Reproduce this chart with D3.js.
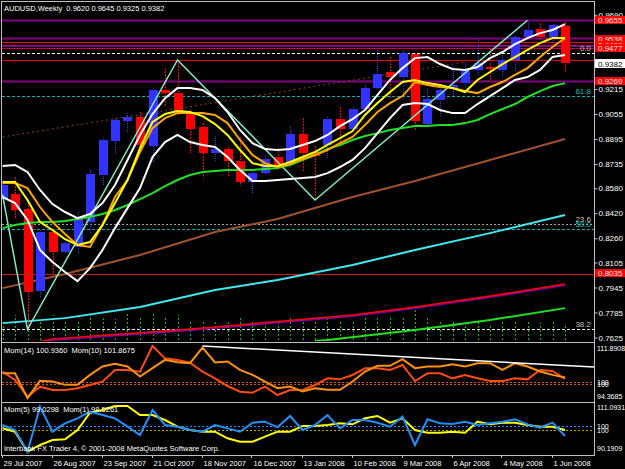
<!DOCTYPE html>
<html>
<head>
<meta charset="utf-8">
<script src="https://cdn.jsdelivr.net/npm/d3@7"></script>
<style>
body { margin: 0; background: #000; }
text { font-family: "Liberation Sans", Arial, sans-serif; }
</style>
</head>
<body>
<div id="chart"></div>
<script>
"use strict";
// ---- data ----
let tickBars = [0, 4, 8, 12, 16, 20, 24, 28, 32, 36, 40, 44];
let tickLabels = ['29 Jul 2007','26 Aug 2007','23 Sep 2007','21 Oct 2007','18 Nov 2007','16 Dec 2007',
                  '13 Jan 2008','10 Feb 2008','9 Mar 2008','6 Apr 2008','4 May 2008','1 Jun 2008'];
let priceTicks = [0.9690, 0.9530, 0.9370, 0.9215, 0.9055, 0.8895, 0.8735, 0.8580, 0.8420, 0.8260, 0.8105, 0.7945, 0.7785, 0.7625];

let open  = [0.8511,0.8543,0.8447,0.7922,0.8300,0.8172,0.8204,0.8364,0.8665,0.8882,0.9010,0.9036,0.8850,0.9209,0.9189,0.9061,
             0.8972,0.8805,0.8831,0.8754,0.8620,0.8677,0.8780,0.8741,0.8927,0.8812,0.8857,0.9023,0.8959,0.9087,0.9221,0.9324,
             0.9292,0.9439,0.8991,0.9145,0.9215,0.9253,0.9337,0.9356,0.9337,0.9401,0.9548,0.9599,0.9548,0.9620];
let high  = [0.8633,0.8652,0.8492,0.8313,0.8319,0.8236,0.8428,0.8697,0.8901,0.9023,0.9061,0.9068,0.9221,0.9349,0.9401,0.9081,
             0.8997,0.8914,0.8844,0.8908,0.8684,0.8793,0.8837,0.8972,0.9029,0.8850,0.9036,0.9100,0.9100,0.9241,0.9465,0.9420,
             0.9465,0.9445,0.9221,0.9241,0.9356,0.9388,0.9541,0.9477,0.9433,0.9554,0.9655,0.9637,0.9631,0.9645];
let low   = [0.8498,0.8389,0.7677,0.7884,0.8037,0.8165,0.8165,0.8287,0.8601,0.8793,0.8940,0.8812,0.8741,0.9100,0.9049,0.8805,
             0.8645,0.8748,0.8652,0.8594,0.8549,0.8671,0.8697,0.8709,0.8684,0.8505,0.8773,0.8869,0.8953,0.9081,0.9209,0.9157,
             0.9145,0.8953,0.8985,0.9036,0.9164,0.9228,0.9305,0.9260,0.9292,0.9324,0.9529,0.9522,0.9503,0.9325];
let close = [0.8601,0.8441,0.7916,0.8300,0.8172,0.8229,0.8389,0.8671,0.8889,0.9017,0.9036,0.8857,0.9209,0.9189,0.9068,0.8959,
             0.8805,0.8831,0.8754,0.8620,0.8677,0.8767,0.8709,0.8927,0.8805,0.8786,0.9023,0.8959,0.9087,0.9221,0.9311,0.9292,
             0.9445,0.9010,0.9151,0.9209,0.9241,0.9330,0.9381,0.9343,0.9401,0.9548,0.9593,0.9548,0.9625,0.9382];
let volume = [18,25,32,20,25,18,20,27,22,21,27,22,27,23,25,20,20,18,20,22,18,17,18,22,20,24,22,20,20,22,22,23,
              24,35,22,20,18,18,20,16,18,19,19,17,20,15];

let bandUpper = [0.8722,0.8729,0.8684,0.8569,0.8479,0.8428,0.8389,0.8415,0.8485,0.8601,0.8761,0.8921,0.9055,0.9157,0.9221,0.9221,
                 0.9209,0.9157,0.9068,0.8953,0.8869,0.8831,0.8825,0.8831,0.8857,0.8882,0.8921,0.8978,0.9023,0.9081,0.9177,0.9273,
                 0.9349,0.9413,0.9420,0.9375,0.9343,0.9337,0.9356,0.9413,0.9452,0.9503,0.9541,0.9573,0.9593,0.9631];
let bandLower = [0.8524,0.8485,0.8377,0.8185,0.8108,0.8044,0.7986,0.8069,0.8185,0.8325,0.8453,0.8581,0.8780,0.8876,0.8921,0.8876,
                 0.8857,0.8844,0.8780,0.8697,0.8626,0.8626,0.8633,0.8639,0.8645,0.8652,0.8677,0.8716,0.8761,0.8837,0.8933,0.9029,
                 0.9113,0.9125,0.9119,0.9081,0.9061,0.9061,0.9119,0.9170,0.9221,0.9273,0.9292,0.9337,0.9420,0.9433];
let maYellow  = [0.8620,0.8620,0.8505,0.8364,0.8313,0.8255,0.8217,0.8236,0.8345,0.8485,0.8633,0.8837,0.9004,0.9055,0.9074,0.9068,
                 0.9042,0.8991,0.8921,0.8825,0.8741,0.8722,0.8722,0.8748,0.8780,0.8812,0.8857,0.8901,0.8946,0.9049,0.9125,0.9196,
                 0.9260,0.9273,0.9253,0.9241,0.9221,0.9196,0.9273,0.9324,0.9375,0.9420,0.9465,0.9509,0.9541,0.9541];
let maOrange  = [0.8613,0.8613,0.8581,0.8460,0.8364,0.8287,0.8217,0.8204,0.8345,0.8524,0.8633,0.8812,0.8965,0.9029,0.9061,0.9061,
                 0.9061,0.9049,0.8997,0.8889,0.8793,0.8741,0.8716,0.8735,0.8767,0.8793,0.8825,0.8869,0.8908,0.8985,0.9068,0.9125,
                 0.9170,0.9260,0.9241,0.9228,0.9221,0.9202,0.9189,0.9228,0.9260,0.9305,0.9349,0.9420,0.9484,0.9541];
let maGreen   = [0.8325,0.8345,0.8357,0.8364,0.8364,0.8370,0.8383,0.8396,0.8415,0.8441,0.8473,0.8511,0.8549,0.8594,0.8633,0.8665,
                 0.8684,0.8690,0.8697,0.8697,0.8697,0.8703,0.8709,0.8729,0.8761,0.8793,0.8831,0.8857,0.8889,0.8914,0.8933,0.8953,
                 0.8965,0.8978,0.8978,0.8985,0.8985,0.8997,0.9017,0.9055,0.9087,0.9119,0.9164,0.9202,0.9234,0.9253];
// slow averages: [bar, price] readings
let maBrown  = [[0,0.7941],[5,0.8031],[11,0.8153],[17,0.8300],[22,0.8383],[28,0.8524],[33,0.8626],[39,0.8761],[45,0.8895]];
let maCyan   = [[0,0.7717],[5,0.7749],[11,0.7820],[17,0.7929],[22,0.7993],[28,0.8089],[33,0.8185],[39,0.8293],[45,0.8409]];
let maRed    = [[3,0.7600],[4,0.7615],[14,0.7673],[17,0.7692],[28,0.7769],[33,0.7820],[39,0.7890],[45,0.7967]];
let maLime   = [[25,0.7602],[26,0.7609],[33,0.7673],[39,0.7737],[45,0.7813]];
let zigzag   = [[0,0.8540],[2,0.7677],[14,0.9401],[25,0.8505],[42,0.9655]];
let trendBrown = [[0,0.8908],[37,0.9388]];

// horizontal objects
let hLevels = [0.9657,0.9543,0.9513,0.9500,0.9490,0.9477,0.9443,0.9399,0.9269,0.9168,0.8353,0.8321,0.8030,0.7677];
let fibNames  = ['0.0','61.8','23.6','50.0','38.2'];
let fibPrices = [0.9443,0.9168,0.8353,0.8321,0.7677];
let boxPrices = [0.9655,0.9538,0.9496,0.9477,0.9269,0.8035];
let lastPrice = 0.9382;

// momentum sub windows
let mom14 = [103.23,100.62,95.41,98.54,97.50,97.50,98.02,99.06,100.10,103.75,103.75,103.23,111.26,107.40,106.88,106.05,
             103.23,101.15,98.75,96.97,96.66,98.54,95.93,97.50,97.50,99.06,101.15,100.83,102.19,104.27,104.27,103.75,
             105.32,100.31,102.71,102.71,101.15,102.19,101.15,100.31,100.31,101.15,100.83,103.75,103.44,100.94];
let mom10 = [103.23,103.23,95.41,100.83,100.62,99.58,99.58,102.71,105.32,106.15,105.32,102.19,104.80,107.40,106.67,106.36,
             111.26,106.57,106.88,104.27,102.71,100.62,98.54,99.06,97.50,98.54,98.02,98.02,100.62,103.75,105.53,105.53,
             107.61,104.80,105.32,105.32,106.05,105.32,106.36,106.36,104.27,106.36,105.32,103.75,102.70,101.87];
let mom10Trend = [[16,111.70],[47.5,105.10]];
let mom5 = [100.71,99.29,90.76,93.61,95.74,96.02,100.00,107.40,108.53,110.24,110.24,106.40,106.40,104.27,101.42,100.00,
            99.29,99.29,96.45,95.03,95.03,97.16,99.29,99.29,101.71,101.71,102.14,102.85,102.42,104.98,105.98,103.13,
            104.98,100.00,98.87,98.87,99.29,98.87,103.56,102.42,103.13,103.13,102.14,101.42,101.42,100.00];
let mom1 = [100.42,98.28,89.04,108.24,97.57,101.13,103.26,106.10,104.68,103.26,99.70,96.15,106.81,100.42,99.70,98.28,
            97.57,100.42,98.99,97.57,101.41,101.84,99.42,104.26,98.28,100.42,104.68,98.99,102.55,102.55,101.41,99.70,
            103.97,91.89,102.84,101.13,100.84,101.84,100.42,101.13,101.84,102.84,100.70,99.28,101.41,95.72];

// ---- layout ----
let width = 625, height = 469;
let plotLeft = 2, plotRight = 594;
let mainTop = 2, mainBottom = 341, p1Top = 343, p1Bottom = 401, p2Top = 403, p2Bottom = 455;

let svg = d3.select("#chart").append("svg")
            .attr("width", width).attr("height", height)
            .style("background", "#000");

let xScale = d3.scaleLinear().domain([0, 45]).range([2.5, 565]);
let yScale = d3.scaleLinear().domain([0.7609, 0.9772]).range([340, 2]);
let volScale = d3.scaleLinear().domain([0, 40]).range([340, 300]);
let m14Scale = d3.scaleLinear().domain([94.3685, 111.8908]).range([400, 344]);
let m10Scale = d3.scaleLinear().domain([94.84, 112.36]).range([400, 344]);
let m5Scale = d3.scaleLinear().domain([90.1909, 111.0931]).range([453, 404]);
let m1Scale = d3.scaleLinear().domain([88.48, 109.38]).range([453, 404]);

let defs = svg.append("defs");
function clip(id, y0, y1) {
    defs.append("clipPath").attr("id", id).append("rect")
        .attr("x", plotLeft).attr("y", y0).attr("width", plotRight - plotLeft).attr("height", y1 - y0);
}
clip("mainClip", mainTop, mainBottom);
clip("p1Clip", p1Top, p1Bottom);
clip("p2Clip", p2Top, p2Bottom);

let main = svg.append("g").attr("clip-path", "url(#mainClip)");
let pane1 = svg.append("g").attr("clip-path", "url(#p1Clip)");
let pane2 = svg.append("g").attr("clip-path", "url(#p2Clip)");

// Horizontal lines
let hStyles = [
    ["#800080", 2, null], ["#800080", 2, null], ["#ff0000", 1, null], ["#a00080", 1, null], ["#800080", 1, null],
    ["#c00040", 1, null], ["#ffffff", 1, "3,2"], ["#ff0000", 1, null], ["#800080", 2, null], ["#00b4b4", 1, "3,2"],
    ["#a0a0a0", 1, "2,2"], ["#00b4b4", 1, "3,2"], ["#d02000", 1, null], ["#ffffff", 1, "3,2"]
];
main.selectAll("line.hl").data(hLevels).enter().append("line")
    .attr("class", "hl")
    .attr("x1", plotLeft).attr("x2", plotRight)
    .attr("y1", function(d) { return Math.round(yScale(d)) + 0.5; })
    .attr("y2", function(d) { return Math.round(yScale(d)) + 0.5; })
    .attr("stroke", function(d, i) { return hStyles[i][0]; })
    .attr("stroke-width", function(d, i) { return hStyles[i][1]; })
    .attr("stroke-dasharray", function(d, i) { return hStyles[i][2]; });

// Fibo level captions
let fibColors = ["#c0c0c0", "#00c8c8", "#c0c0c0", "#00c8c8", "#c0c0c0"];
main.selectAll("text.fib").data(fibPrices).enter().append("text")
    .attr("class", "fib")
    .attr("x", 591).attr("y", function(d) { return yScale(d) - 2; })
    .attr("text-anchor", "end").attr("font-size", "8px")
    .attr("fill", function(d, i) { return fibColors[i]; })
    .text(function(d, i) { return fibNames[i]; });

// Volumes
main.selectAll("line.vol").data(volume).enter().append("line")
    .attr("x1", function(d, i) { return Math.round(xScale(i)) + 0.5; })
    .attr("x2", function(d, i) { return Math.round(xScale(i)) + 0.5; })
    .attr("y1", volScale(0)).attr("y2", function(d) { return volScale(d); })
    .attr("stroke", "#00c000").attr("stroke-dasharray", "2,2");

let knotLine = d3.line().x(function(d) { return xScale(d[0]); }).y(function(d) { return yScale(d[1]); });
let seriesLine = d3.line().x(function(d, i) { return xScale(i); }).y(function(d) { return yScale(d); });

function drawKnots(g, data, colour, w, dash) {
    g.append("path").datum(data).attr("d", knotLine)
        .attr("fill", "none").attr("stroke", colour).attr("stroke-width", w).attr("stroke-dasharray", dash || null);
}
function drawSeries(g, data, colour, w) {
    g.append("path").datum(data).attr("d", seriesLine)
        .attr("fill", "none").attr("stroke", colour).attr("stroke-width", w);
}

// Slow moving averages
drawKnots(main, maLime, "#20e020", 2);
drawKnots(main, maRed.map(function(d) { return [d[0], d[1] - 0.0008]; }), "#8000a0", 1.5);
drawKnots(main, maRed, "#ff0000", 1.5);
drawKnots(main, maCyan, "#40e8f0", 2);
drawKnots(main, maBrown, "#a0522d", 2);
drawKnots(main, trendBrown, "#8b4513", 1, "2,3");

// Candles
let candles = d3.range(open.length).map(function(i) {
    return {i: i, o: open[i], h: high[i], l: low[i], c: close[i]};
});
main.selectAll("line.wick").data(candles).enter().append("line")
    .attr("x1", function(d) { return Math.round(xScale(d.i)) + 0.5; })
    .attr("x2", function(d) { return Math.round(xScale(d.i)) + 0.5; })
    .attr("y1", function(d) { return yScale(d.h); })
    .attr("y2", function(d) { return yScale(d.l); })
    .attr("stroke", function(d) { return d.c >= d.o ? "#3a3aff" : "#ff0000"; })
    .attr("stroke-dasharray", function(d) { return d.c >= d.o ? "1,1" : "2,1"; });
main.selectAll("rect.body").data(candles).enter().append("rect")
    .attr("x", function(d) { return Math.round(xScale(d.i)) - 4; })
    .attr("width", 9)
    .attr("y", function(d) { return yScale(Math.max(d.o, d.c)); })
    .attr("height", function(d) { return Math.max(1.5, Math.abs(yScale(d.o) - yScale(d.c))); })
    .attr("fill", function(d) { return d.c >= d.o ? "#3333ff" : "#ff0000"; });

// ZigZag and fast averages
drawKnots(main, zigzag, "#80e8c8", 1.5);
drawSeries(main, maGreen, "#22e022", 2);
drawSeries(main, bandLower, "#ffffff", 2);
drawSeries(main, bandUpper, "#ffffff", 2);
drawSeries(main, maOrange, "#ffa500", 2);
drawSeries(main, maYellow, "#ffff00", 2);

// ---- Momentum pane 1 ----
function levelLine(g, yv, colour) {
    g.append("line").attr("x1", plotLeft).attr("x2", plotRight)
        .attr("y1", Math.round(yv) + 0.5).attr("y2", Math.round(yv) + 0.5)
        .attr("stroke", colour).attr("stroke-dasharray", "2,2");
}
function momLine(g, data, scale, colour) {
    g.append("path").datum(data)
        .attr("d", d3.line().x(function(d, i) { return xScale(i); }).y(function(d) { return scale(d); }))
        .attr("fill", "none").attr("stroke", colour).attr("stroke-width", 2);
}
levelLine(pane1, m14Scale(100), "#ff4500");
levelLine(pane1, m10Scale(100), "#c86400");
momLine(pane1, mom14, m14Scale, "#ff4a10");
momLine(pane1, mom10, m10Scale, "#ff9010");
pane1.append("path").datum(mom10Trend)
    .attr("d", d3.line().x(function(d) { return xScale(d[0]); }).y(function(d) { return m10Scale(d[1]); }))
    .attr("stroke", "#ffffff").attr("stroke-width", 1.5).attr("fill", "none");

// ---- Momentum pane 2 ----
levelLine(pane2, m1Scale(100), "#1e90ff");
levelLine(pane2, m5Scale(100), "#b0b000");
momLine(pane2, mom5, m5Scale, "#ffff00");
momLine(pane2, mom1, m1Scale, "#2090ff");

// ---- frame ----
let frame = svg.append("g").attr("stroke", "#c0c0c0").attr("fill", "none");
frame.append("rect").attr("x", 1.5).attr("y", 1.5).attr("width", plotRight - 1).attr("height", p2Bottom - 1);
[mainBottom + 1, p1Bottom + 1].forEach(function(yy) {
    frame.append("line").attr("x1", 1.5).attr("x2", plotRight + 0.5).attr("y1", yy + 0.5).attr("y2", yy + 0.5);
});

// Price axis
let yAxis = d3.axisRight(yScale).tickValues(priceTicks).tickFormat(d3.format(".4f")).tickSize(3).tickPadding(1);
let axisG = svg.append("g").attr("transform", "translate(" + (plotRight + 0.5) + ",0)").call(yAxis);
axisG.select(".domain").remove();
axisG.selectAll("line").attr("stroke", "#c0c0c0");
axisG.selectAll("text").attr("fill", "#ffffff").attr("font-size", "8px").attr("font-family", "Liberation Sans, Arial");

// Price boxes on the axis
svg.selectAll("g.box").data(boxPrices).enter().append("g").each(function(d) {
    let g = d3.select(this);
    g.append("rect").attr("x", plotRight + 1).attr("y", Math.round(yScale(d)) - 4)
        .attr("width", 30).attr("height", 8).attr("fill", "#ff0000");
    g.append("text").attr("x", plotRight + 4).attr("y", Math.round(yScale(d)) + 3)
        .attr("font-size", "8px").attr("fill", "#e8e8e8").text(d3.format(".4f")(d));
});
svg.append("rect").attr("x", plotRight + 1).attr("y", Math.round(yScale(lastPrice)) - 4)
    .attr("width", 30).attr("height", 9).attr("fill", "#ffffff");
svg.append("text").attr("x", plotRight + 4).attr("y", Math.round(yScale(lastPrice)) + 3.5)
    .attr("font-size", "8px").attr("fill", "#000000").text(d3.format(".4f")(lastPrice));

// Sub window scale labels
function paneLabel(txt, yy) {
    svg.append("text").attr("x", plotRight + 3).attr("y", yy).attr("font-size", "7px")
        .attr("fill", "#ffffff").text(txt);
}
paneLabel("111.8908", m14Scale(111.8908) + 7);
paneLabel("100", m14Scale(100) + 3);
paneLabel("100", m10Scale(100) + 3);
paneLabel("94.3685", m14Scale(94.3685) - 1);
paneLabel("111.0931", m5Scale(111.0931) + 6);
paneLabel("100", m1Scale(100) + 3);
paneLabel("100", m5Scale(100) + 3);
paneLabel("90.1909", m5Scale(90.1909) - 2);

// Time axis
let xAxisG = svg.append("g");
xAxisG.selectAll("line").data(tickBars).enter().append("line")
    .attr("x1", function(d) { return Math.round(xScale(d)) - 0.5; })
    .attr("x2", function(d) { return Math.round(xScale(d)) - 0.5; })
    .attr("y1", p2Bottom).attr("y2", p2Bottom + 3).attr("stroke", "#c0c0c0");
xAxisG.selectAll("text").data(tickBars).enter().append("text")
    .attr("x", function(d) { return xScale(d) + 1; })
    .attr("y", 465.5)
    .attr("font-size", "7.5px").attr("fill", "#ffffff")
    .text(function(d, i) { return tickLabels[i]; });

// Captions
svg.append("text").attr("x", 4).attr("y", 11).attr("font-size", "7.5px").attr("fill", "#ffffff")
    .attr("xml:space", "preserve")
    .text("AUDUSD,Weekly  " + [open[45], high[45], low[45], close[45]].map(d3.format(".4f")).join(" "));
svg.append("text").attr("x", 4).attr("y", 353).attr("font-size", "7.5px").attr("fill", "#ffffff")
    .attr("xml:space", "preserve")
    .text("Mom(14) 100.9360  Mom(10) 101.8675");
svg.append("text").attr("x", 4).attr("y", 412).attr("font-size", "7.5px").attr("fill", "#ffffff")
    .attr("xml:space", "preserve")
    .text("Mom(5) 99.0298  Mom(1) 98.5261");
svg.append("text").attr("x", 4).attr("y", 451).attr("font-size", "7.5px").attr("fill", "#ffffff")
    .text("Interbank FX Trader 4, \u00a9 2001-2008 MetaQuotes Software Corp.");
</script>
</body>
</html>
